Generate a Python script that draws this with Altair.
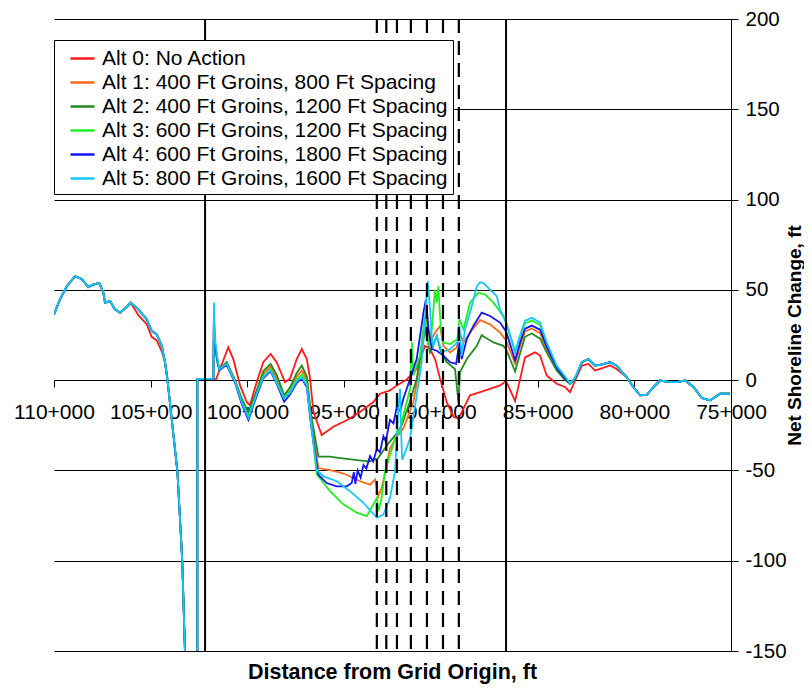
import altair as alt
import pandas as pd

SERIES = [
    "Alt 0: No Action",
    "Alt 1: 400 Ft Groins, 800 Ft Spacing",
    "Alt 2: 400 Ft Groins, 1200 Ft Spacing",
    "Alt 3: 600 Ft Groins, 1200 Ft Spacing",
    "Alt 4: 600 Ft Groins, 1800 Ft Spacing",
    "Alt 5: 800 Ft Groins, 1600 Ft Spacing",
]
COLORS = ["#FF1A1A", "#FF6A13", "#228B22", "#22EE22", "#1515F0", "#14C8FF"]

X_TICKS = [110, 105, 100, 95, 90, 85, 80, 75]
Y_TICKS = [-150, -100, -50, 0, 50, 100, 150, 200]

# stations in thousands of feet (110 = 110+000)
SOLID_X = [102.19, 86.63]
DASHED_X = [93.31, 92.82, 92.27, 91.55, 90.72, 89.89, 89.07]

LEFT_X = [110.0, 109.69, 109.34, 108.91, 108.57, 108.23, 107.97, 107.66, 107.45, 107.36,
          107.10, 106.85, 106.59, 106.28, 106.03, 105.64, 105.21, 104.95, 104.69, 104.43,
          104.26, 104.14, 103.62, 103.37, 103.23, 102.95, 102.60, 102.59, 102.59, 101.76]
LEFT_Y_ALT = [36.4, 44.7, 52.0, 57.5, 56.0, 51.5, 52.9, 53.8, 48.4, 42.9,
              43.8, 39.2, 37.4, 40.1, 42.9, 39.2, 33.7, 27.3, 25.4, 19.0,
              9.9, 0.7, -50.5, -100.0, -150.0, -200.0, -200.0, -150.0, 0.7, 0.7]
LEFT_Y_RED = [36.4, 44.7, 52.0, 57.5, 56.0, 51.5, 52.9, 53.8, 48.4, 42.9,
              43.8, 39.2, 37.4, 40.1, 42.9, 36.0, 31.0, 24.0, 22.0, 16.0,
              9.9, 0.7, -50.5, -100.0, -150.0, -200.0, -200.0, -150.0, 0.7, 0.7]

RED_MID_X = [101.62, 101.42, 100.99, 100.73, 100.38, 100.04, 99.87, 99.52, 99.18, 98.80,
             98.49, 98.06, 97.80, 97.45, 97.19, 96.93, 96.76, 96.59, 96.16, 95.56,
             94.87, 94.18, 93.49, 93.14, 92.63, 92.28, 91.76, 91.25, 90.82, 90.56,
             90.30, 90.04, 89.70, 89.35, 89.09, 88.83, 88.49, 87.97, 87.46, 86.94,
             86.63, 86.16, 85.90, 85.65, 85.13, 84.87, 84.53, 84.01, 83.58, 83.32,
             83.06, 82.71, 82.37, 82.03, 81.77, 81.25, 80.91]
RED_MID_Y = [0.4, 6.2, 18.1, 11.7, -2.9, -12.1, -13.9, -1.1, 9.9, 14.5,
             9.9, -1.1, 0.7, 11.7, 17.2, 11.7, 0.7, -17.6, -30.4, -25.8,
             -22.2, -17.6, -12.1, -7.5, -5.7, -2.9, 0.4, 6.2, 19.0, 17.2,
             11.7, 0.7, -12.1, -20.3, -21.3, -15.8, -8.4, -6.6, -4.8, -2.9,
             -0.5, -11.5, 0.7, 12.6, 15.4, 13.6, 2.6, -2.0, -3.8, -6.6,
             -0.2, 8.1, 9.0, 5.3, 6.2, 8.1, 6.2]

ALT_HEAD_X = [101.73, 101.70, 101.55, 101.45, 101.07, 100.64, 100.30, 99.95, 99.50, 99.18,
              98.80, 98.49, 98.10, 97.80, 97.45, 97.19, 96.93, 96.70]
ALT1_HEAD_Y = [36, 20, 10, 6, 9.5, -0.5, -11, -19, -6, 3.5, 7.5, 1, -9.5, -5.5, 2, 5.3, 0, -22]
ALT2_HEAD_Y = [34, 20, 10, 6, 10, 0, -10, -18, -5, 5, 9, 3, -8.4, -4, 4, 8.1, 2, -20]
ALT3_HEAD_Y = [38, 21, 10, 5.5, 9, -1, -12, -20, -7, 2, 6, -1, -10, -6, 0.5, 3, -2, -24]
ALT4_HEAD_Y = [40, 22, 11, 5.5, 8.5, -1.5, -13, -22, -8, 1, 5, -2, -12, -8, -1.5, 1, -4, -26]
ALT5_HEAD_Y = [43, 25, 12, 6, 9, -1, -12, -21, -7, 1.5, 5.5, -1.5, -10.3, -7, -0.5, 1.6, -3, -25]

ALT1_X = [96.33, 95.73, 95.30, 94.87, 94.18, 93.66, 93.40, 93.23, 93.06, 92.89,
          92.63, 92.28, 91.94, 91.42, 91.10, 90.90, 90.73, 90.56, 90.30, 90.04,
          89.87, 89.52, 89.18, 89.04, 88.83, 88.49, 87.97, 87.46, 86.94, 86.63,
          86.16, 85.90, 85.65, 85.30, 84.87, 84.53, 84.01, 83.58, 83.32, 83.06]
ALT1_Y = [-48.7, -49.8, -51.0, -52.4, -56.0, -57.9, -55.1, -64.3, -59.7, -52.0,
          -37.7, -31.5, -26.8, -12.1, 8.0, 22.7, 35.5, 20.9, 26.4, 30.0,
          19.0, 15.4, 18.1, 26.4, 20.9, 26.4, 33.2, 30.9, 26.4, 22.0,
          9.0, 19.0, 27.0, 28.6, 26.0, 17.0, 6.0, 0.5, -2.0, 1.0]

ALT2_X = [96.33, 95.73, 95.30, 94.87, 94.00, 93.66, 93.40, 93.31, 92.71, 92.28,
          92.02, 91.60, 91.25, 90.82, 90.56, 90.21, 90.04, 89.70, 89.27, 89.09,
          89.01, 88.66, 88.14, 87.89, 87.71, 87.28, 86.77, 86.63, 86.16, 85.90,
          85.65, 85.30, 84.87, 84.53, 84.01, 83.58, 83.32, 83.06]
ALT2_Y = [-42.3, -42.3, -43.0, -43.6, -44.7, -45.0, -43.6, -44.1, -35.0, -29.5,
          -24.9, -12.0, 0.7, 28.2, 15.4, 24.5, 17.2, 9.9, 6.2, -12.1,
          4.4, 11.7, 19.0, 24.9, 23.6, 20.9, 19.0, 17.2, 4.8, 15.0,
          24.0, 25.8, 23.0, 15.4, 5.3, 0.0, -2.0, 0.5]

ALT3_X = [96.42, 95.73, 95.04, 94.35, 93.83, 93.49, 93.31, 93.23, 93.06, 92.89,
          92.63, 92.37, 92.11, 91.94, 91.59, 91.50, 91.42, 91.08, 90.82, 90.64,
          90.47, 90.30, 90.21, 90.13, 90.00, 89.87, 89.52, 89.15, 89.04, 88.83,
          88.49, 88.06, 87.71, 87.28, 86.77, 86.63, 86.16, 85.90, 85.65, 85.30,
          84.87, 84.53, 84.01, 83.58, 83.32, 83.06]
ALT3_Y = [-52.0, -61.5, -68.8, -73.4, -75.3, -68.8, -65.2, -72.5, -65.0, -50.5,
          -41.4, -32.3, -27.0, -19.4, -4.8, 20.9, 2.6, 13.6, 35.5, 19.0,
          28.2, 50.2, 42.9, 52.0, 28.2, 20.9, 20.0, 22.7, 33.7, 28.2,
          42.9, 48.4, 47.4, 42.9, 35.5, 32.0, 16.0, 24.0, 31.5, 33.0,
          30.5, 20.0, 7.5, 1.5, -2.0, 1.0]

ALT4_X = [96.33, 95.90, 95.38, 94.87, 94.61, 94.50, 94.42, 94.30, 94.15, 94.00,
          93.85, 93.66, 93.50, 93.31, 93.15, 92.97, 92.85, 92.63, 92.45, 92.28,
          92.10, 91.94, 91.59, 91.25, 90.90, 90.77, 90.64, 90.47, 90.21, 89.87,
          89.52, 89.21, 89.04, 88.92, 88.66, 88.32, 87.89, 87.46, 86.94, 86.63,
          86.16, 85.90, 85.65, 85.30, 84.87, 84.53, 84.01, 83.58, 83.32, 83.06]
ALT4_Y = [-52.4, -57.0, -58.8, -58.8, -57.0, -51.0, -57.5, -50.0, -54.0, -47.0,
          -49.0, -42.0, -45.0, -38.0, -40.0, -31.0, -34.0, -22.0, -24.0, -15.0,
          -17.0, -10.3, 0.7, 11.7, 37.4, 44.7, 28.2, 17.2, 16.3, 13.6,
          9.9, 9.0, 20.9, 11.7, 22.7, 30.0, 37.4, 35.5, 31.9, 27.0,
          11.0, 21.0, 28.5, 30.2, 28.0, 18.5, 7.0, 1.0, -2.0, 1.0]

ALT5_X = [96.42, 96.07, 95.38, 94.70, 94.00, 93.31, 92.97, 92.63, 92.37, 92.28,
          92.19, 92.11, 92.05, 92.00, 91.85, 91.59, 91.25, 90.99, 90.85, 90.68,
          90.55, 90.47, 90.39, 90.21, 89.95, 89.52, 89.15, 89.04, 88.92, 88.75,
          88.49, 88.14, 87.97, 87.80, 87.46, 87.11, 86.94, 86.63, 86.16, 85.90,
          85.65, 85.30, 84.87, 84.53, 84.01, 83.58, 83.32, 83.06]
ALT5_Y = [-49.6, -53.3, -56.0, -61.5, -68.0, -76.2, -74.4, -65.2, -50.5, -32.3,
          -13.9, -4.8, -30.0, -44.1, -40.0, -32.3, -8.4, 9.9, 30.0, 55.0,
          38.0, 24.0, 19.0, 24.5, 15.4, 17.2, 20.9, 30.0, 13.6, 28.2,
          37.4, 52.0, 54.2, 53.8, 50.2, 46.5, 39.0, 32.0, 15.4, 25.0,
          33.0, 34.6, 31.9, 20.9, 8.1, 2.0, -2.0, 1.5]

ALT_TAIL_X = [82.71, 82.37, 82.03, 81.77, 81.25, 80.91, 80.60]
ALT_TAIL_Y = [10.0, 11.7, 8.1, 8.5, 9.9, 8.0, 4.0]

RIGHT_X = [80.39, 80.05, 79.70, 79.35, 79.01, 78.67, 78.15, 77.80, 77.37, 76.94,
           76.51, 76.08, 75.56, 75.05]
RIGHT_Y = [1.6, -3.8, -8.4, -8.1, -3.8, -0.2, -1.1, -1.1, -0.2, -3.8,
           -9.9, -11.2, -7.5, -7.5]

parts = {
    SERIES[0]: [(LEFT_X, LEFT_Y_RED), (RED_MID_X, RED_MID_Y), (RIGHT_X, RIGHT_Y)],
    SERIES[1]: [(LEFT_X, LEFT_Y_ALT), (ALT_HEAD_X, ALT1_HEAD_Y), (ALT1_X, ALT1_Y), (ALT_TAIL_X, ALT_TAIL_Y), (RIGHT_X, RIGHT_Y)],
    SERIES[2]: [(LEFT_X, LEFT_Y_ALT), (ALT_HEAD_X, ALT2_HEAD_Y), (ALT2_X, ALT2_Y), (ALT_TAIL_X, ALT_TAIL_Y), (RIGHT_X, RIGHT_Y)],
    SERIES[3]: [(LEFT_X, LEFT_Y_ALT), (ALT_HEAD_X, ALT3_HEAD_Y), (ALT3_X, ALT3_Y), (ALT_TAIL_X, ALT_TAIL_Y), (RIGHT_X, RIGHT_Y)],
    SERIES[4]: [(LEFT_X, LEFT_Y_ALT), (ALT_HEAD_X, ALT4_HEAD_Y), (ALT4_X, ALT4_Y), (ALT_TAIL_X, ALT_TAIL_Y), (RIGHT_X, RIGHT_Y)],
    SERIES[5]: [(LEFT_X, LEFT_Y_ALT), (ALT_HEAD_X, ALT5_HEAD_Y), (ALT5_X, ALT5_Y), (ALT_TAIL_X, ALT_TAIL_Y), (RIGHT_X, RIGHT_Y)],
}

rows = []
for name in SERIES:
    i = 0
    for xs, ys in parts[name]:
        assert len(xs) == len(ys), (name, len(xs), len(ys))
        for xv, yv in zip(xs, ys):
            rows.append({"series": name, "x": xv, "y": yv, "idx": i})
            i += 1
df = pd.DataFrame(rows)

FONT = "Liberation Sans"
PLOT_H = 632

x_enc = alt.X(
    "x:Q",
    title=None,
    scale=alt.Scale(domain=[75, 110], reverse=True, nice=False, zero=False),
    axis=alt.Axis(
        values=X_TICKS, labelExpr="datum.value + '+000'", orient="bottom",
        offset=-271, grid=False, domainColor="black", domainWidth=1,
        tickColor="black", tickSize=7, labelFontSize=21, labelFont=FONT,
        labelColor="black", labelPadding=14, labelOverlap=False,
        labelFlush=False, labelAlign="center",
    ),
)
y_enc = alt.Y(
    "y:Q",
    title="Net Shoreline Change, ft",
    scale=alt.Scale(domain=[-150, 200], nice=False, zero=False),
    axis=alt.Axis(
        values=Y_TICKS, labelExpr="'' + datum.value", orient="right",
        grid=True, gridColor="black", gridWidth=1,
        domainColor="black", tickColor="black", tickSize=7, labelFontSize=20.5,
        labelFont=FONT, labelColor="black", labelPadding=7,
        titleFont=FONT, titleFontSize=19, titleFontWeight="bold", titleColor="black",
        titleAngle=270, titleBaseline="top", titleAlign="center",
        titleX=54, titleY=PLOT_H / 2,
    ),
)

lines = alt.Chart(df).mark_line(clip=True, strokeWidth=1.8).encode(
    x=x_enc,
    y=y_enc,
    color=alt.Color(
        "series:N",
        scale=alt.Scale(domain=SERIES, range=COLORS),
        legend=alt.Legend(
            title=None, orient="none", legendX=0, legendY=21,
            symbolType="stroke", symbolSize=576, symbolStrokeWidth=2.5,
            labelFontSize=21, labelFont=FONT, labelColor="black", labelLimit=600,
            strokeColor="black", fillColor="white", padding=5, rowPadding=0,
            symbolOffset=10, labelOffset=6, cornerRadius=0,
        ),
    ),
    order="idx:Q",
)

solid = alt.Chart(pd.DataFrame({"x": SOLID_X})).mark_rule(color="black", strokeWidth=2).encode(x=x_enc)
dashed = alt.Chart(pd.DataFrame({"x": DASHED_X})).mark_rule(
    color="black", strokeWidth=2.2, strokeDash=[14, 8]).encode(x=x_enc)

chart = alt.layer(lines, solid, dashed).properties(
    width=677,
    height=PLOT_H,
    autosize=alt.AutoSizeParams(type="none"),
    padding={"left": 46, "top": 11, "right": 73, "bottom": 33},
    background="white",
    title=alt.TitleParams(
        "Distance from Grid Origin, ft", orient="bottom", anchor="middle",
        frame="group", baseline="top", offset=0, fontSize=21.5, fontWeight="bold",
        font=FONT, color="black",
    ),
).configure_view(stroke=None)

chart.save("out.html", embed_options={"renderer": "svg", "actions": False})
